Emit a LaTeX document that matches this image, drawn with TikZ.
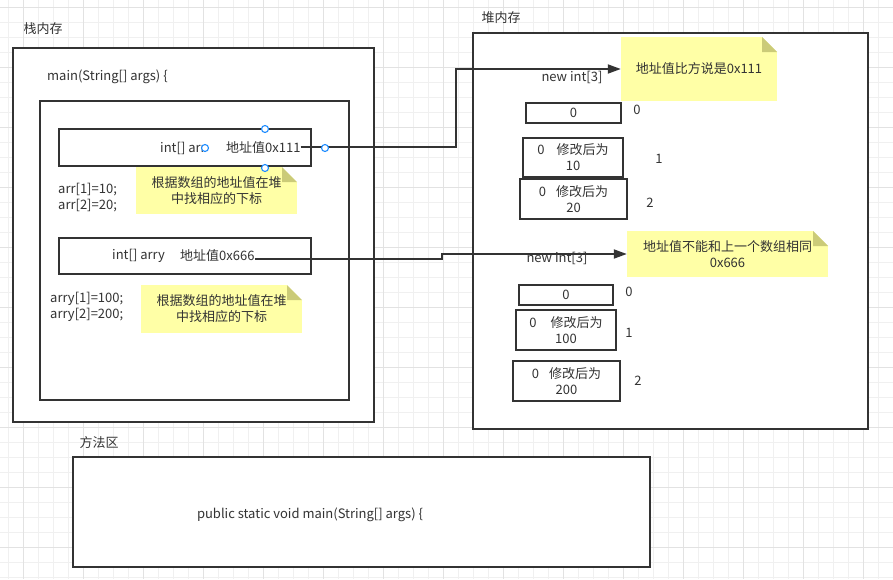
\documentclass[tikz,border=0pt]{standalone}
\usepackage{fontspec}
\setmainfont{Noto Sans CJK SC}
\usetikzlibrary{arrows.meta}
\definecolor{strk}{HTML}{333333}
\definecolor{txt}{HTML}{333333}
\definecolor{notefill}{HTML}{FFFFA6}
\definecolor{foldfill}{HTML}{CBCB78}
\definecolor{gridminor}{HTML}{F0F0F0}
\definecolor{gridmajor}{HTML}{E2E2E2}
\definecolor{handle}{HTML}{1E8CFF}
\tikzset{
  box/.style={draw=strk, line width=2pt, fill=white, inner sep=0pt, align=center, text=txt},
  lbl/.style={inner sep=0pt, text=txt, align=left},
  note/.style={fill=notefill, inner sep=0pt, align=center, text=txt,
    path picture={
      \fill[white] ([xshift=-15pt]path picture bounding box.north east) -- ([xshift=1pt,yshift=1pt]path picture bounding box.north east) -- ([yshift=-15pt]path picture bounding box.north east) -- cycle;
      \fill[foldfill] ([xshift=-15pt]path picture bounding box.north east) -- ([xshift=-15pt,yshift=-15pt]path picture bounding box.north east) -- ([yshift=-15pt]path picture bounding box.north east) -- cycle;}},
  conn/.style={draw=strk, line width=1.8pt, -{Triangle[length=13pt,width=9pt]}},
  hdl/.style={circle, draw=handle, fill=white, line width=1.1pt, minimum size=7pt, inner sep=0pt}
}
\begin{document}
\begin{tikzpicture}[x=1pt,y=-1pt, font=\fontsize{13}{16}\selectfont]
\useasboundingbox (0,0) rectangle (893,579);
\fill[white] (0,0) rectangle (893,579);
% grid
\foreach \x in {8.3,23.3,...,893} \draw[gridminor, line width=1pt] (\x,0) -- (\x,579);
\foreach \y in {7.3,22.3,...,579} \draw[gridminor, line width=1pt] (0,\y) -- (893,\y);
\foreach \x in {23.3,83.3,...,893} \draw[gridmajor, line width=1pt] (\x,0) -- (\x,579);
\foreach \y in {7.3,67.3,...,579} \draw[gridmajor, line width=1pt] (0,\y) -- (893,\y);

% section titles
\node[lbl] (tstack) at (43,29) {栈内存};
\node[lbl] (theap) at (501,18) {堆内存};
\node[lbl] (tmethod) at (99,443) {方法区};

% stack memory
\node[box, minimum width=361pt, minimum height=374pt] (stack) at (193.5,235) {};
\node[lbl, anchor=west] (mainsig) at (47,77) {main(String[] args) \{};
\node[box, minimum width=309pt, minimum height=299pt] (inner) at (194.5,250.5) {};
\node[box, minimum width=252pt, minimum height=37pt] (arrbox) at (185,147.5) {};
\node[lbl, anchor=west] (arrname) at (160,148) {int[] arr};
\node[lbl, anchor=west] (v1) at (226,148) {地址值0x111};
\node[note, minimum width=161pt, minimum height=47pt] (n1) at (216.5,190.5) {根据数组的地址值在堆\\中找相应的下标};
\node[lbl, anchor=west] (arrset) at (58,197.5) {arr[1]=10;\\arr[2]=20;};
\node[box, minimum width=252pt, minimum height=36pt] (arrybox) at (185,256) {};
\node[lbl, anchor=west] (arryname) at (112,256) {int[] arry};
\node[lbl, anchor=west] (v2) at (180,256) {地址值0x666};
\node[note, minimum width=161pt, minimum height=48pt] (n2) at (221.5,309) {根据数组的地址值在堆\\中找相应的下标};
\node[lbl, anchor=west] (arryset) at (50,307) {arry[1]=100;\\arry[2]=200;};

% heap memory
\node[box, minimum width=395pt, minimum height=396pt] (heap) at (670.5,231) {};
\node[note, minimum width=156pt, minimum height=64pt] (n3) at (699,69) {地址值比方说是0x111};
\node[lbl] (new1) at (572,77) {new int[3]};
\node[box, minimum width=95pt, minimum height=20pt] (hb1) at (573.5,113) {0};
\node[lbl] (i10) at (637,110) {0};
\node[box, minimum width=100pt, minimum height=39pt] (hb2) at (573,157.5) {0\hspace{12pt}修改后为\\10};
\node[lbl] (i11) at (659,159) {1};
\node[box, minimum width=107pt, minimum height=40pt] (hb3) at (573.5,199) {0\hspace{10pt}修改后为\\20};
\node[lbl] (i12) at (650,203) {2};

\node[note, minimum width=201pt, minimum height=46pt] (n4) at (727.5,254) {地址值不能和上一个数组相同\\0x666};
\node[lbl] (new2) at (557,258) {new int[3]};
\node[box, minimum width=94pt, minimum height=20pt] (hb4) at (566,295) {0};
\node[lbl] (i20) at (629,292) {0};
\node[box, minimum width=100pt, minimum height=40pt] (hb5) at (566,330) {0\hspace{14pt}修改后为\\100};
\node[lbl] (i21) at (629,333) {1};
\node[box, minimum width=107pt, minimum height=40pt] (hb6) at (566.5,381) {0\hspace{10pt}修改后为\\200};
\node[lbl] (i22) at (638,381) {2};

% method area
\node[box, minimum width=577pt, minimum height=110pt] (method) at (361.5,512) {};
\node[lbl] (mtext) at (310,515) {public static void main(String[] args) \{};

% connectors
\coordinate (k1) at (455.7,69);
\draw[conn] ([yshift=0.7pt]v1.east) -| (k1) -- (n3.west);
\coordinate (k2) at (442.3,254);
\draw[conn] ([yshift=-3pt]v2.east) -| (k2) -- (n4.west);

% selection handles
\node[hdl] (h1) at (265,129) {};
\node[hdl] (h2) at (205,148) {};
\node[hdl] (h3) at (265,168) {};
\node[hdl] (h4) at (325,148) {};
\end{tikzpicture}
\end{document}
